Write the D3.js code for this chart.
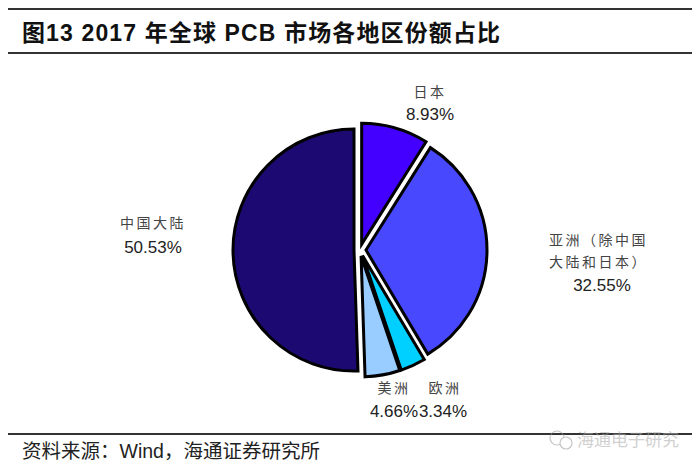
<!DOCTYPE html>
<html>
<head>
<meta charset="utf-8">
<script src="https://cdn.jsdelivr.net/npm/d3@7"></script>
<style>
  body { margin: 0; background: #fff; }
  svg { display: block; }
</style>
</head>
<body>
<script>
// data
const regions = ["日本", "亚洲（除中国大陆和日本）", "欧洲", "美洲", "中国大陆"];
const shares = [8.93, 32.55, 3.34, 4.66, 50.53];
const colors = ["#4400ff", "#4848ff", "#00d0ff", "#99ccff", "#1c0a72"];

const width = 700, height = 468;
const cx = 360, cy = 250, radius = 121, explode = 6;

const svg = d3.select("body").append("svg")
  .attr("width", width).attr("height", height);

const cjk = "'Noto Sans CJK SC', sans-serif";
const mixed = "'Liberation Sans', 'Noto Sans CJK SC', sans-serif";
const num = "'Liberation Sans', Arial, sans-serif";

// title + rules
svg.append("line").attr("x1", 8).attr("x2", 692).attr("y1", 9).attr("y2", 9)
  .attr("stroke", "#333").attr("stroke-width", 2);
svg.append("text").attr("x", 22).attr("y", 41)
  .attr("font-family", mixed)
  .attr("font-weight", "bold").attr("font-size", 23).attr("fill", "#111")
  .attr("textLength", 478).attr("lengthAdjust", "spacing")
  .text("图13  2017 年全球 PCB 市场各地区份额占比");
svg.append("line").attr("x1", 8).attr("x2", 692).attr("y1", 53).attr("y2", 53)
  .attr("stroke", "#333").attr("stroke-width", 2);

// pie
const pie = d3.pie().value(d => d).sort(null);
const arc = d3.arc().innerRadius(0).outerRadius(radius);
const arcs = pie(shares);

const g = svg.append("g").attr("transform", `translate(${cx},${cy})`);
g.selectAll("path")
  .data(arcs)
  .enter().append("path")
  .attr("transform", d => {
    const a = (d.startAngle + d.endAngle) / 2;
    return `translate(${Math.sin(a) * explode},${-Math.cos(a) * explode})`;
  })
  .attr("d", arc)
  .attr("fill", (d, i) => colors[i])
  .attr("stroke", "#000")
  .attr("stroke-width", 3)
  .attr("stroke-linejoin", "miter");

// labels
const labels = [
  { lines: ["日本"], x: 430, y: 97, px: 430, py: 120, anchor: "middle" },
  { lines: ["亚洲（除中国", "大陆和日本）"], x: 549, y: 245, px: 602, py: 291, anchor: "start" },
  { lines: ["欧洲"], x: 445, y: 393, px: 443, py: 417, anchor: "middle" },
  { lines: ["美洲"], x: 394, y: 393, px: 394, py: 417, anchor: "middle" },
  { lines: ["中国大陆"], x: 153, y: 228, px: 153, py: 253, anchor: "middle" }
];

labels.forEach((l, i) => {
  l.lines.forEach((t, j) => {
    svg.append("text")
      .attr("x", l.x).attr("y", l.y + j * 22)
      .attr("text-anchor", l.anchor)
      .attr("font-family", cjk).attr("font-size", 14)
      .attr("letter-spacing", 2.5)
      .attr("fill", "#444")
      .text(t);
  });
  svg.append("text")
    .attr("x", l.px).attr("y", l.py)
    .attr("text-anchor", "middle")
    .attr("font-family", num).attr("font-size", 17)
    .attr("fill", "#222")
    .text(d3.format(".2f")(shares[i]) + "%");
});

// source
svg.append("line").attr("x1", 8).attr("x2", 692).attr("y1", 434).attr("y2", 434)
  .attr("stroke", "#333").attr("stroke-width", 2);
svg.append("text").attr("x", 22).attr("y", 458)
  .attr("font-family", mixed).attr("font-size", 19.5).attr("fill", "#222")
  .text("资料来源：Wind，海通证券研究所");

// watermark
const wm = svg.append("g").attr("opacity", 0.55);
wm.append("circle").attr("cx", 557).attr("cy", 438).attr("r", 7)
  .attr("fill", "none").attr("stroke", "#999").attr("stroke-width", 1.2);
wm.append("circle").attr("cx", 566).attr("cy", 443).attr("r", 6)
  .attr("fill", "#fff").attr("stroke", "#999").attr("stroke-width", 1.2);
wm.append("text").attr("x", 577).attr("y", 446)
  .attr("font-family", cjk).attr("font-size", 17).attr("fill", "#aaa")
  .text("海通电子研究");
</script>
</body>
</html>
